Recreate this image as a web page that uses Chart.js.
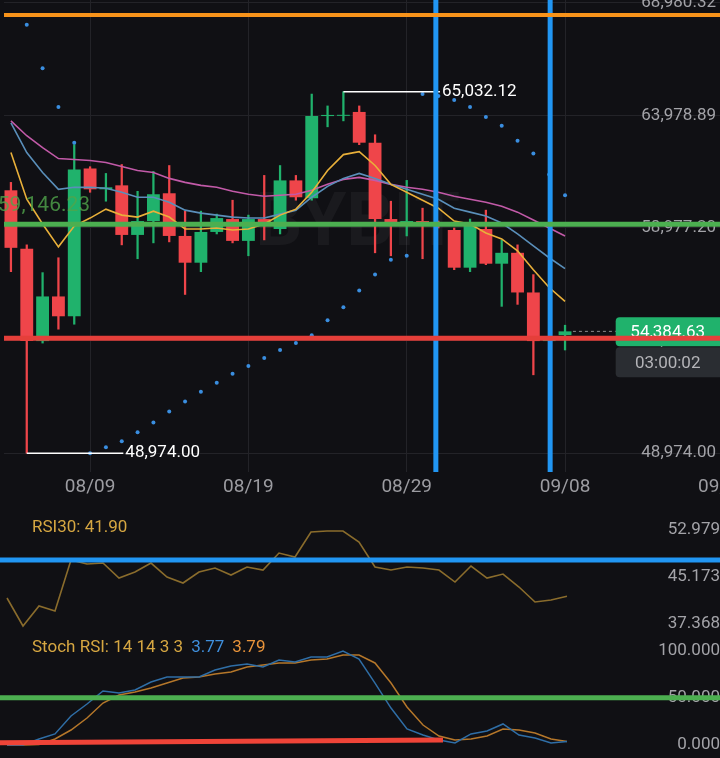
<!DOCTYPE html>
<html lang="en">
<head>
<meta charset="UTF-8">
<title>BTCUSDT 1D</title>
<script src="https://cdn.jsdelivr.net/npm/chart.js@4.4.1/dist/chart.umd.min.js"></script>
<style>
  html, body { margin: 0; padding: 0; background: #101014; width: 720px; height: 758px; overflow: hidden; position: relative; }
  canvas { position: absolute; left: 0; }
  #main { top: -20px; }
  #rsi { top: 500px; }
  #stoch { top: 630px; }
  .legend { position: absolute; left: 32px; font: 17px Roboto, sans-serif; color: #d6a742; white-space: nowrap; }
  .legend span { margin-left: 8px; }
</style>
</head>
<body>
<canvas id="main" width="760" height="522"></canvas>
<canvas id="rsi" width="760" height="130"></canvas>
<canvas id="stoch" width="760" height="128"></canvas>
<div class="legend" id="rsiLegend" style="top:516px"></div>
<div class="legend" id="stochLegend" style="top:636px"></div>

<script>
// daily candles, 08/04 -> 09/08
const dates = ['08/04','08/05','08/06','08/07','08/08','08/09','08/10','08/11','08/12','08/13',
  '08/14','08/15','08/16','08/17','08/18','08/19','08/20','08/21','08/22','08/23',
  '08/24','08/25','08/26','08/27','08/28','08/29','08/30','08/31','09/01','09/02',
  '09/03','09/04','09/05','09/06','09/07','09/08'];
const opens  = [60652,58052,53953,55936,55055,61621,60696,60872,58669,59286,60520,58624,57435,58801,59374,58404,59374,58933,61092,60299,
  63950,63960,64133,62767,59374,59153,59286,59153,58889,57214,58933,57391,57875,56113,53953,54218];
const highs  = [61004,58228,56994,57655,62679,61700,61401,61798,60608,61489,61753,59726,59726,59594,60211,59550,61313,61753,61313,64927,
  64400,65032.12,64400,63119,60167,61092,59858,59286,58977,59374,59770,58448,58228,56906,54130,54658];
const lows   = [57038,48974,53865,54482,54702,60564,60167,58228,57611,58316,58360,56024,57038,58713,58316,57743,58448,58713,60211,60211,
  63472,63736,62679,57875,57743,58624,57611,58977,57126,57038,57347,55496,55584,52455,53865,53557];
const closes = [58096,53953,55936,55055,61577,60696,60784,58669,59286,60476,58624,57435,58801,59418,58404,59374,59153,61092,60343,63957,
  64000,64005,62767,59374,59153,59286,59153,59065,57214,59109,57391,57875,56113,53953,54041,54384.63];

const maFast = [62326,60255,59153,58140,59065,59418,59814,59550,59462,59726,59462,58933,58933,58977,58889,58933,59153,59550,59814,60564,
  61533,62238,62370,61753,60916,60564,60211,59858,59285,59153,58757,58492,57963,57126,56333,55716];
const maMid  = [63648,62326,61445,60696,60784,60784,60740,60564,60343,60343,60123,59770,59638,59550,59462,59418,59418,59594,59770,60343,
  60828,61181,61401,61181,60916,60696,60475,60255,59858,59682,59506,59197,58713,58184,57655,57170];
const maSlow = [63737,63076,62547,62062,62018,61974,61886,61709,61533,61445,61181,61004,60872,60784,60608,60475,60387,60431,60475,60652,
  60916,61136,61225,61092,60916,60784,60696,60564,60387,60255,60123,59947,59682,59330,58977,58624];
const sar    = [null,68011,66072,64354,62767,48974,49238,49502,49899,50339,50824,51265,51705,52102,52499,52851,53204,53556,53865,54217,
  54878,55451,56201,56906,57567,57743,64926,64838,64662,64354,63913,63516,62855,62282,61357,60431];

const rsi    = [41.61,36.93,40.27,39.43,47.96,47.29,47.46,44.95,45.96,47.46,45.12,44.12,45.96,46.62,45.45,46.79,46.29,49.13,48.46,52.64,
  52.81,52.81,50.97,46.79,46.29,46.79,46.62,46.29,44.28,46.96,44.95,45.62,43.45,40.94,41.27,41.90];
const stochK = [0,0,6.4,11.7,30.8,43.5,57.3,55.1,58.3,66.8,72.1,72.1,72.1,79.5,83.8,85.9,82.7,90.1,88.0,93.3,
  93.3,99.7,91.2,65.7,39.2,17.0,10.6,5.3,2.1,11.7,14.8,22.3,10.6,7.4,2.1,3.77];
const stochD = [0,0,0.5,6.4,15.9,28.6,44.5,53.0,56.2,60.4,65.7,71.1,72.1,75.3,77.4,82.7,84.8,87.0,87.0,90.1,
  91.2,95.4,95.4,87.0,65.7,40.3,21.2,9.5,5.3,6.4,9.5,17.0,15.9,12.7,6.4,3.79];

// drawn levels
const priceLevels = [68440, 59146.23, 54080];       // orange, green, red
const dayMarks = [26.84, 34.06];                    // blue vertical lines (candle index)
const rsiLevel = 47.97;
const stochLevel = 50;
const stochTrend = [[-1, 2.4], [27.25, 5.3]];

// axis ticks
const priceTicks = [48974.00, 53975.58, 58977.20, 63978.89, 68980.32];
const rsiTicks = [37.368, 45.173, 52.979];
const stochTicks = [0, 50, 100];
const dayTickIdx = [5, 15, 25, 35, 45];
const dayTickLabels = ['08/09', '08/19', '08/29', '09/08', '09/18'];

const UP = '#20b26c', DOWN = '#ef454a';
const X_MIN = -7 / 16, X_MAX = (760 - 7) / 16;
const fmt = v => v.toLocaleString('en-US', { minimumFractionDigits: 2, maximumFractionDigits: 2 });
const FONT = 'Roboto';

document.getElementById('rsiLegend').textContent = 'RSI30: ' + rsi[rsi.length - 1].toFixed(2);
document.getElementById('stochLegend').innerHTML = 'Stoch RSI: 14 14 3 3' +
  '<span style="color:#3f8fdc">' + stochK[stochK.length - 1].toFixed(2) + '</span>' +
  '<span style="color:#e8933a">' + stochD[stochD.length - 1].toFixed(2) + '</span>';

function hLine(v) { return [{ x: -2, y: v }, { x: 60, y: v }]; }

function xAxis(show) {
  return {
    type: 'linear', min: X_MIN, max: X_MAX, offset: false, bounds: 'data', display: show,
    afterBuildTicks: s => { s.ticks = dayTickIdx.map(v => ({ value: v })); },
    afterFit: s => { s.height = show ? 30 : 0; s.paddingLeft = 0; s.paddingRight = 0; },
    ticks: { color: '#9c9ca1', font: { family: FONT, size: 19 }, padding: 4, maxRotation: 0, autoSkip: false,
      callback: (v, i) => dayTickLabels[i] },
    grid: { color: '#232328', drawTicks: false, offset: false },
    border: { display: false }
  };
}

function yAxis(min, max, ticks, fmtFn, grid) {
  return {
    position: 'right', min: min, max: max, bounds: 'data',
    afterBuildTicks: s => { s.ticks = ticks.map(v => ({ value: v })); },
    afterFit: s => { s.width = 0; s.paddingTop = 0; s.paddingBottom = 0; },
    ticks: { mirror: true, padding: -40, color: '#a3a3a8', font: { family: FONT, size: 17 }, callback: v => fmtFn(v) },
    grid: { display: grid, color: '#232328', drawTicks: false },
    border: { display: false }
  };
}

const baseOpts = {
  responsive: false, animation: false, events: [],
  layout: { padding: 0 },
  plugins: { legend: { display: false }, tooltip: { enabled: false } }
};

// ---------- main price panel ----------
const Y_MIN = 48137, Y_MAX = 69817;
const hiVal = Math.max(...highs), hiIdx = highs.indexOf(hiVal);
const loVal = Math.min(...lows), loIdx = lows.indexOf(loVal);
const lastClose = closes[closes.length - 1];
const candleColors = closes.map((c, i) => c >= opens[i] ? UP : DOWN);

const mainDecor = {
  id: 'mainDecor',
  beforeDatasetsDraw(chart) {
    const { ctx, scales: { x, y } } = chart;
    ctx.save();
    ctx.font = 'bold 74px ' + FONT;
    ctx.fillStyle = 'rgba(255,255,255,0.045)';
    ctx.textAlign = 'center';
    ctx.textBaseline = 'middle';
    ctx.fillText('BYBIT', x.getPixelForValue(21.9), y.getPixelForValue(59050));

    // last price tag + countdown
    const py = y.getPixelForValue(lastClose);
    const bx = x.getPixelForValue(38.2);
    ctx.fillStyle = UP;
    ctx.beginPath(); ctx.roundRect(bx, py - 14, 200, 29, 4); ctx.fill();
    ctx.fillStyle = '#2a2d32';
    ctx.beginPath(); ctx.roundRect(bx, py + 16, 200, 30, 4); ctx.fill();
    ctx.font = '17px ' + FONT;
    ctx.fillStyle = '#ffffff';
    ctx.fillText(fmt(lastClose), bx + 52, py + 1);
    ctx.fillStyle = '#b4b4b8';
    ctx.fillText('03:00:02', bx + 52, py + 32);
    ctx.restore();
  },
  afterDatasetsDraw(chart) {
    const { ctx, scales: { x, y } } = chart;
    ctx.save();
    ctx.font = '17px ' + FONT;
    ctx.textBaseline = 'middle';
    ctx.textAlign = 'left';
    ctx.fillStyle = '#ffffff';
    ctx.fillText(fmt(hiVal), x.getPixelForValue(hiIdx + 6.1) + 2, y.getPixelForValue(hiVal));
    ctx.fillText(fmt(loVal), x.getPixelForValue(loIdx + 6.1) + 2, y.getPixelForValue(loVal));
    ctx.textAlign = 'right';
    ctx.fillStyle = 'rgba(80,165,75,0.8)';
    ctx.font = '21px ' + FONT;
    ctx.fillText(fmt(priceLevels[1]), x.getPixelForValue(5), y.getPixelForValue(priceLevels[1]) - 18);
    ctx.restore();
  }
};

const lineDs = (data, color, width, order, extra) => Object.assign({
  type: 'line', data: data, borderColor: color, borderWidth: width, pointRadius: 0, tension: 0, order: order
}, extra || {});

new Chart(document.getElementById('main'), {
  type: 'line',
  data: {
    datasets: [
      lineDs(hLine(priceLevels[2]), '#e53f3a', 5, 0),
      lineDs(hLine(priceLevels[1]), '#4caf50', 5, 0),
      lineDs(hLine(priceLevels[0]), '#f7931a', 4, 0),
      lineDs([{ x: dayMarks[0], y: Y_MIN }, { x: dayMarks[0], y: Y_MAX }], '#2196f3', 5, 0),
      lineDs([{ x: dayMarks[1], y: Y_MIN }, { x: dayMarks[1], y: Y_MAX }], '#2196f3', 5, 0),
      lineDs([{ x: hiIdx, y: hiVal }, { x: hiIdx + 6.1, y: hiVal }], '#ffffff', 1.5, 1),
      lineDs([{ x: loIdx, y: loVal }, { x: loIdx + 6.1, y: loVal }], '#ffffff', 1.5, 1),
      lineDs([{ x: 35.5, y: lastClose }, { x: 38.2, y: lastClose }], '#8a8a8e', 1, 1, { borderDash: [3, 3] }),
      lineDs(sar.map((v, i) => ({ x: i, y: v })), '#3a8ee0', 0, 1,
        { showLine: false, pointRadius: 2, pointBackgroundColor: '#3a8ee0', pointBorderWidth: 0 }),
      lineDs(maFast.map((v, i) => ({ x: i, y: v })), '#e9b03a', 1.6, 2),
      lineDs(maMid.map((v, i) => ({ x: i, y: v })), '#5a8fba', 1.6, 2),
      lineDs(maSlow.map((v, i) => ({ x: i, y: v })), '#c25aa8', 1.6, 2),
      {
        type: 'bar', data: opens.map((o, i) => ({ x: i, y: [o, closes[i]] })),
        backgroundColor: candleColors, borderWidth: 0, grouped: false,
        barPercentage: 1, categoryPercentage: 13 / 16, order: 3
      },
      {
        type: 'bar', data: lows.map((l, i) => ({ x: i, y: [l, highs[i]] })),
        backgroundColor: candleColors, borderWidth: 0, grouped: false,
        barPercentage: 1, categoryPercentage: 1, maxBarThickness: 1.6, order: 4
      }
    ]
  },
  options: Object.assign({}, baseOpts, {
    scales: {
      x: xAxis(true),
      y: yAxis(Y_MIN, Y_MAX, priceTicks, fmt, true)
    }
  }),
  plugins: [mainDecor]
});

// ---------- RSI panel ----------
new Chart(document.getElementById('rsi'), {
  type: 'line',
  data: {
    datasets: [
      lineDs(hLine(rsiLevel), '#2196f3', 5, 0),
      lineDs(rsi.map((v, i) => ({ x: i, y: v })), '#8a6c2c', 1.6, 1)
    ]
  },
  options: Object.assign({}, baseOpts, {
    scales: {
      x: xAxis(false),
      y: yAxis(36.26, 58.0, rsiTicks, v => v.toFixed(3), false)
    }
  })
});

// ---------- Stoch RSI panel ----------
new Chart(document.getElementById('stoch'), {
  type: 'line',
  data: {
    datasets: [
      lineDs(hLine(stochLevel), '#4caf50', 5, 0),
      lineDs(stochTrend.map(p => ({ x: p[0], y: p[1] })), '#ef4438', 5, 0),
      lineDs(stochK.map((v, i) => ({ x: i, y: v })), '#2f6ea6', 1.5, 1),
      lineDs(stochD.map((v, i) => ({ x: i, y: v })), '#b5772a', 1.5, 2)
    ]
  },
  options: Object.assign({}, baseOpts, {
    scales: {
      x: xAxis(false),
      y: yAxis(-13.79, 121.95, stochTicks, v => v.toFixed(3), false)
    }
  })
});
</script>
</body>
</html>
